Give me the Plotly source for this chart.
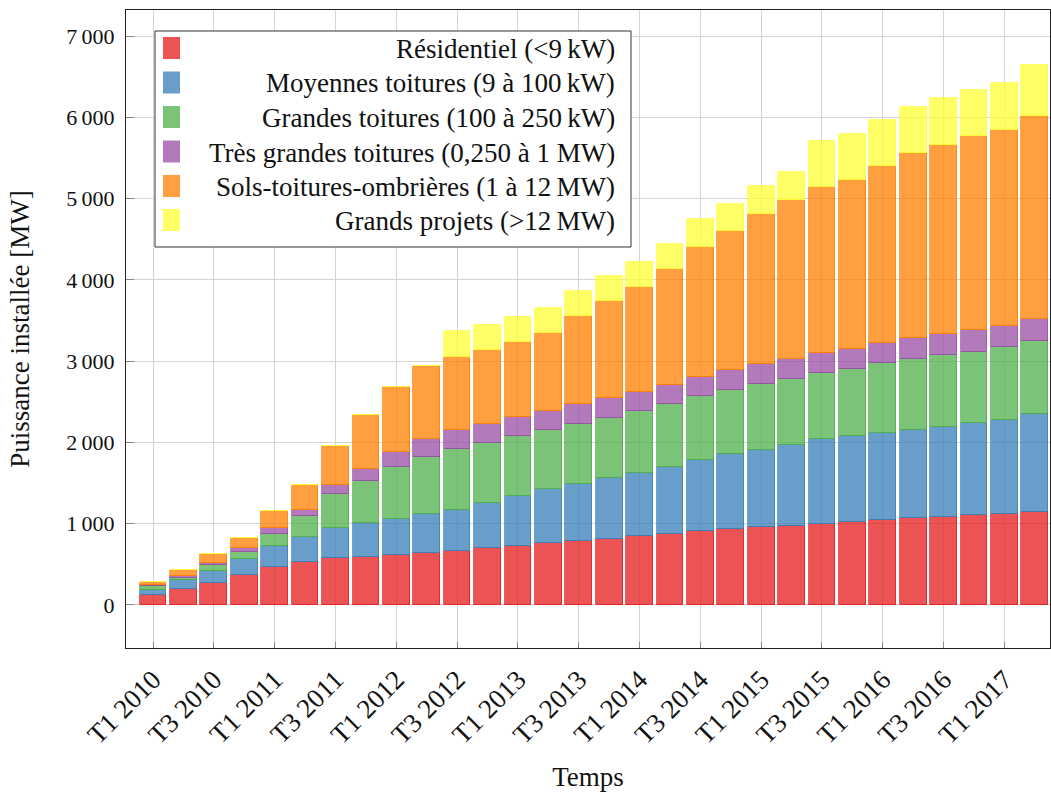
import plotly.graph_objects as go

# Quarters T1 2010 .. T2 2017
quarters = [f"T{q} {y}" for y in range(2010, 2018) for q in range(1, 5)][:30]

residentiel = [127, 196, 266, 368, 466, 524, 573, 593, 618, 640, 667, 699, 724, 757, 785,
               810, 847, 875, 904, 930, 954, 972, 994, 1016, 1043, 1065, 1079, 1101, 1115, 1141]
moyennes = [61, 107, 151, 201, 262, 306, 368, 409, 445, 480, 507, 557, 618, 666, 708,
            748, 777, 826, 879, 924, 958, 994, 1043, 1057, 1075, 1088, 1114, 1132, 1163, 1204]
grandes = [41, 28, 70, 85, 147, 266, 425, 528, 638, 706, 744, 740, 740, 732, 736,
           745, 756, 773, 786, 791, 803, 816, 821, 829, 855, 869, 879, 883, 892, 900]
tres_grandes = [16, 29, 28, 45, 66, 70, 106, 143, 185, 217, 229, 225, 229, 234, 241,
                241, 238, 234, 241, 245, 245, 245, 245, 250, 255, 259, 267, 268, 263, 272]
sols = [33, 65, 107, 119, 212, 315, 483, 664, 795, 895, 908, 916, 924, 961, 1080,
        1198, 1296, 1427, 1595, 1711, 1855, 1957, 2037, 2073, 2175, 2274, 2318, 2380, 2416, 2501]
grands_projets = [0, 0, 0, 0, 0, 0, 0, 0, 0, 0, 315, 311, 311, 306, 315,
                  307, 307, 307, 343, 334, 338, 339, 566, 566, 566, 570, 575, 571, 570, 620]

series_names = [
    "Résidentiel (<9\u2009kW)",
    "Moyennes toitures (9 à 100\u2009kW)",
    "Grandes toitures (100 à 250\u2009kW)",
    "Très grandes toitures (0,250 à 1 MW)",
    "Sols-toitures-ombrières (1 à 12\u2009MW)",
    "Grands projets (>12\u2009MW)",
]
series_values = [residentiel, moyennes, grandes, tres_grandes, sols, grands_projets]
colors_rgb = [(228, 26, 28), (55, 126, 184), (77, 175, 74), (152, 78, 163), (255, 127, 0), (255, 255, 51)]

ytick_vals = [0, 1000, 2000, 3000, 4000, 5000, 6000, 7000]
ytick_text = ["0", "1\u2009000", "2\u2009000", "3\u2009000", "4\u2009000", "5\u2009000", "6\u2009000", "7\u2009000"]

FONT = "Liberation Serif"

x = list(range(len(quarters)))
fig = go.Figure()
for name, vals, (r, g, b) in zip(series_names, series_values, colors_rgb):
    fig.add_trace(go.Bar(
        x=x, y=vals, name=name, width=0.88,
        marker=dict(color=f"rgba({r},{g},{b},0.75)",
                    line=dict(color=f"rgba({r},{g},{b},0.9)", width=0.8)),
        showlegend=False,
    ))

# Custom legend (right-aligned text like the original)
L, R, T, B = 126, 1050, 10, 648
def px(xp): return (xp - L) / (R - L)
def py(yp): return (B - yp) / (B - T)

shapes = [dict(type="rect", xref="paper", yref="paper", x0=px(155), x1=px(631), y0=py(247), y1=py(31),
               line=dict(color="#333333", width=1), fillcolor="white", layer="above")]
annotations = []
centers = [48, 82.5, 117, 151.5, 186, 220]
for name, (r, g, b), cy in zip(series_names, colors_rgb, centers):
    shapes.append(dict(type="rect", xref="paper", yref="paper", x0=px(163), x1=px(180),
                       y0=py(cy + 11), y1=py(cy - 11), line=dict(width=0),
                       fillcolor=f"rgba({r},{g},{b},0.75)", layer="above"))
    annotations.append(dict(xref="paper", yref="paper", x=px(617), y=py(cy + 1), text=name,
                            showarrow=False, xanchor="right", yanchor="middle",
                            font=dict(family=FONT, size=27, color="#111111")))

fig.update_layout(
    width=1051, height=792,
    barmode="stack", bargap=0,
    margin=dict(l=L, r=1051 - R, t=T, b=792 - B, autoexpand=False),
    plot_bgcolor="white", paper_bgcolor="white",
    font=dict(family=FONT, size=20, color="#111111"),
    shapes=shapes, annotations=annotations,
    xaxis=dict(
        range=[-0.89, 29.5], tickmode="array", tickvals=x[::2], ticktext=quarters[::2],
        tickangle=-45, showgrid=True, gridcolor="#d4d4d4", gridwidth=1,
        showline=True, linecolor="#222222", linewidth=1, mirror=True,
        ticks="inside", ticklen=6, tickcolor="#888888", ticklabelstandoff=4,
        tickfont=dict(family=FONT, size=27), automargin=False,
        title=dict(text="Temps", font=dict(family=FONT, size=27), standoff=30),
        zeroline=False,
    ),
    yaxis=dict(
        range=[-530, 7320], tickmode="array", tickvals=ytick_vals, ticktext=ytick_text,
        showgrid=True, gridcolor="#d4d4d4", gridwidth=1,
        showline=True, linecolor="#222222", linewidth=1, mirror=True,
        ticks="inside", ticklen=8, tickcolor="#888888", ticklabelstandoff=6,
        tickfont=dict(family=FONT, size=22), automargin=False,
        title=dict(text="Puissance installée [MW]", font=dict(family=FONT, size=27), standoff=28),
        zeroline=False,
    ),
)

fig.write_html("out.html", config={"displayModeBar": False},
               post_script="document.body.style.margin='0';document.body.style.overflow='hidden';")
